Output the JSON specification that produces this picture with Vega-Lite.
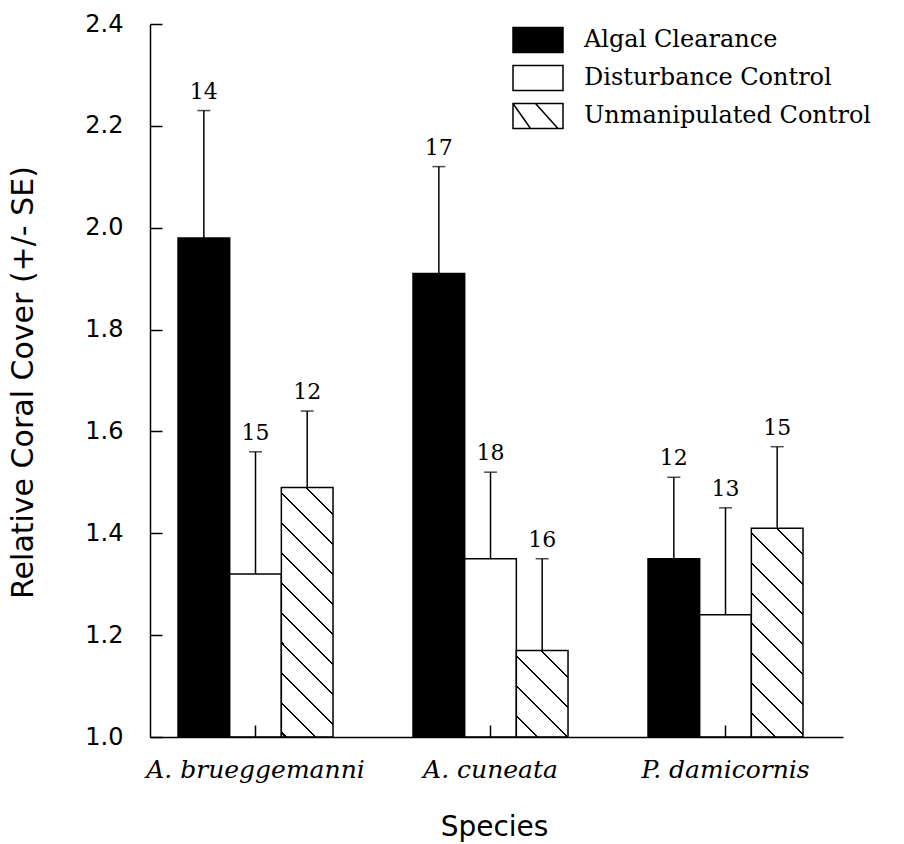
{
  "$schema": "https://vega.github.io/schema/vega-lite/v6.json",
  "autosize": {"type": "none"},
  "padding": {"left": 150, "top": 24, "right": 61, "bottom": 107},
  "width": 693,
  "height": 713,
  "background": "white",
  "config": {
    "view": {"stroke": null},
    "axis": {"domainColor": "black", "domainWidth": 1.5, "tickColor": "black", "tickWidth": 1.5, "labelColor": "black", "titleColor": "black", "grid": false}
  },
  "data": {
    "values": [
      {"species": "A. brueggemanni", "treatment": "Algal Clearance", "value": 1.98, "upper": 2.23, "n": "14"},
      {"species": "A. brueggemanni", "treatment": "Disturbance Control", "value": 1.32, "upper": 1.56, "n": "15"},
      {"species": "A. brueggemanni", "treatment": "Unmanipulated Control", "value": 1.49, "upper": 1.64, "n": "12"},
      {"species": "A. cuneata", "treatment": "Algal Clearance", "value": 1.91, "upper": 2.12, "n": "17"},
      {"species": "A. cuneata", "treatment": "Disturbance Control", "value": 1.35, "upper": 1.52, "n": "18"},
      {"species": "A. cuneata", "treatment": "Unmanipulated Control", "value": 1.17, "upper": 1.35, "n": "16"},
      {"species": "P. damicornis", "treatment": "Algal Clearance", "value": 1.35, "upper": 1.51, "n": "12"},
      {"species": "P. damicornis", "treatment": "Disturbance Control", "value": 1.24, "upper": 1.45, "n": "13"},
      {"species": "P. damicornis", "treatment": "Unmanipulated Control", "value": 1.41, "upper": 1.57, "n": "15"}
    ]
  },
  "encoding": {
    "x": {
      "field": "species", "type": "nominal",
      "sort": ["A. brueggemanni", "A. cuneata", "P. damicornis"],
      "scale": {"paddingInner": 0.3404, "paddingOuter": 0.1447, "align": 0.412},
      "axis": {
        "title": "Species", "labelAngle": 0, "labelFont": "DejaVu Serif", "labelFontStyle": "italic",
        "labelFontSize": 25, "labelLimit": 400, "tickSize": -12, "labelPadding": 32, "zindex": 1,
        "titleFont": "DejaVu Sans", "titleFontSize": 28, "titleFontWeight": "normal",
        "titleX": 344, "titleY": 90, "titleBaseline": "middle"
      }
    },
    "xOffset": {
      "field": "treatment", "type": "nominal",
      "sort": ["Algal Clearance", "Disturbance Control", "Unmanipulated Control"],
      "scale": {"paddingInner": 0, "paddingOuter": 0}
    },
    "y": {
      "field": "value", "type": "quantitative",
      "scale": {"domain": [1, 2.4], "zero": false, "nice": false},
      "axis": {
        "title": "Relative Coral Cover (+/- SE)", "values": [1, 1.2, 1.4, 1.6, 1.8, 2, 2.2, 2.4], "format": ".1f",
        "labelFont": "DejaVu Sans", "labelFontSize": 24, "tickSize": -12, "labelPadding": 39, "zindex": 1,
        "titleFont": "DejaVu Sans", "titleFontSize": 30, "titleFontWeight": "normal",
        "titleX": -127, "titleY": 358, "titleAngle": 270, "titleBaseline": "middle"
      }
    }
  },
  "layer": [
    {
      "mark": {"type": "bar", "stroke": "black", "strokeWidth": 1.5},
      "encoding": {
        "y2": {"datum": 1},
        "fill": {
          "field": "treatment", "type": "nominal",
          "scale": {"domain": ["Algal Clearance", "Disturbance Control", "Unmanipulated Control"], "range": ["black", "white", "white"]},
          "legend": {
            "orient": "none", "legendX": 362, "legendY": 2, "title": null, "padding": 0,
            "symbolType": "M-1,-0.5H1V0.5H-1Z", "symbolSize": 2500,
            "symbolStrokeColor": "black", "symbolStrokeWidth": 1.5,
            "labelFont": "DejaVu Serif", "labelFontSize": 24, "labelColor": "black", "labelOffset": 20, "labelLimit": 400,
            "clipHeight": 28, "rowPadding": 10,
            "encode": {"symbols": {"update": {"shape": {"signal": "datum.value === 'Unmanipulated Control' ? 'M-1,-0.5H1V0.5H-1Z M-1,-0.5L-0.3,0.5 M-0.1,-0.5L0.8,0.5' : 'M-1,-0.5H1V0.5H-1Z'"}}}}
          },
          "condition": [
            {
              "test": "datum.treatment === 'Unmanipulated Control' && datum.species === 'A. brueggemanni'",
              "value": {
                "gradient": "linear", "x1": 0, "y1": 1, "x2": 0.2398, "y2": -0.1575,
                "stops": [
                  {"offset": 0, "color": "white"},
                  {"offset": 0.0118, "color": "white"}, {"offset": 0.0118, "color": "black"}, {"offset": 0.0188, "color": "black"}, {"offset": 0.0188, "color": "white"},
                  {"offset": 0.1113, "color": "white"}, {"offset": 0.1113, "color": "black"}, {"offset": 0.1183, "color": "black"}, {"offset": 0.1183, "color": "white"},
                  {"offset": 0.2109, "color": "white"}, {"offset": 0.2109, "color": "black"}, {"offset": 0.2179, "color": "black"}, {"offset": 0.2179, "color": "white"},
                  {"offset": 0.3105, "color": "white"}, {"offset": 0.3105, "color": "black"}, {"offset": 0.3175, "color": "black"}, {"offset": 0.3175, "color": "white"},
                  {"offset": 0.4100, "color": "white"}, {"offset": 0.4100, "color": "black"}, {"offset": 0.4170, "color": "black"}, {"offset": 0.4170, "color": "white"},
                  {"offset": 0.5096, "color": "white"}, {"offset": 0.5096, "color": "black"}, {"offset": 0.5166, "color": "black"}, {"offset": 0.5166, "color": "white"},
                  {"offset": 0.6092, "color": "white"}, {"offset": 0.6092, "color": "black"}, {"offset": 0.6162, "color": "black"}, {"offset": 0.6162, "color": "white"},
                  {"offset": 0.7087, "color": "white"}, {"offset": 0.7087, "color": "black"}, {"offset": 0.7157, "color": "black"}, {"offset": 0.7157, "color": "white"},
                  {"offset": 0.8083, "color": "white"}, {"offset": 0.8083, "color": "black"}, {"offset": 0.8153, "color": "black"}, {"offset": 0.8153, "color": "white"},
                  {"offset": 0.9079, "color": "white"}, {"offset": 0.9079, "color": "black"}, {"offset": 0.9149, "color": "black"}, {"offset": 0.9149, "color": "white"},
                  {"offset": 1, "color": "white"}
                ]
              }
            },
            {
              "test": "datum.treatment === 'Unmanipulated Control' && datum.species === 'A. cuneata'",
              "value": {
                "gradient": "linear", "x1": 0, "y1": 1, "x2": 0.7029, "y2": -0.1774,
                "stops": [
                  {"offset": 0, "color": "white"},
                  {"offset": 0.1486, "color": "white"}, {"offset": 0.1486, "color": "black"}, {"offset": 0.1638, "color": "black"}, {"offset": 0.1638, "color": "white"},
                  {"offset": 0.3655, "color": "white"}, {"offset": 0.3655, "color": "black"}, {"offset": 0.3807, "color": "black"}, {"offset": 0.3807, "color": "white"},
                  {"offset": 0.5824, "color": "white"}, {"offset": 0.5824, "color": "black"}, {"offset": 0.5976, "color": "black"}, {"offset": 0.5976, "color": "white"},
                  {"offset": 0.7993, "color": "white"}, {"offset": 0.7993, "color": "black"}, {"offset": 0.8145, "color": "black"}, {"offset": 0.8145, "color": "white"},
                  {"offset": 1, "color": "white"}
                ]
              }
            },
            {
              "test": "datum.treatment === 'Unmanipulated Control' && datum.species === 'P. damicornis'",
              "value": {
                "gradient": "linear", "x1": 0, "y1": 1, "x2": 0.2911, "y2": -0.1756,
                "stops": [
                  {"offset": 0, "color": "white"},
                  {"offset": 0.0874, "color": "white"}, {"offset": 0.0874, "color": "black"}, {"offset": 0.0954, "color": "black"}, {"offset": 0.0954, "color": "white"},
                  {"offset": 0.2025, "color": "white"}, {"offset": 0.2025, "color": "black"}, {"offset": 0.2105, "color": "black"}, {"offset": 0.2105, "color": "white"},
                  {"offset": 0.3177, "color": "white"}, {"offset": 0.3177, "color": "black"}, {"offset": 0.3257, "color": "black"}, {"offset": 0.3257, "color": "white"},
                  {"offset": 0.4328, "color": "white"}, {"offset": 0.4328, "color": "black"}, {"offset": 0.4408, "color": "black"}, {"offset": 0.4408, "color": "white"},
                  {"offset": 0.5480, "color": "white"}, {"offset": 0.5480, "color": "black"}, {"offset": 0.5560, "color": "black"}, {"offset": 0.5560, "color": "white"},
                  {"offset": 0.6632, "color": "white"}, {"offset": 0.6632, "color": "black"}, {"offset": 0.6712, "color": "black"}, {"offset": 0.6712, "color": "white"},
                  {"offset": 0.7783, "color": "white"}, {"offset": 0.7783, "color": "black"}, {"offset": 0.7863, "color": "black"}, {"offset": 0.7863, "color": "white"},
                  {"offset": 0.8935, "color": "white"}, {"offset": 0.8935, "color": "black"}, {"offset": 0.9015, "color": "black"}, {"offset": 0.9015, "color": "white"},
                  {"offset": 1, "color": "white"}
                ]
              }
            }
          ]
        }
      }
    },
    {
      "mark": {"type": "rule", "color": "black", "strokeWidth": 1.5},
      "encoding": {
        "y2": {"field": "upper"}
      }
    },
    {
      "mark": {"type": "tick", "color": "black", "size": 13, "thickness": 1.5},
      "encoding": {
        "y": {"field": "upper", "type": "quantitative"}
      }
    },
    {
      "mark": {"type": "text", "color": "black", "dy": -12, "baseline": "alphabetic", "font": "DejaVu Serif", "fontSize": 22},
      "encoding": {
        "y": {"field": "upper", "type": "quantitative"},
        "text": {"field": "n"}
      }
    }
  ]
}
